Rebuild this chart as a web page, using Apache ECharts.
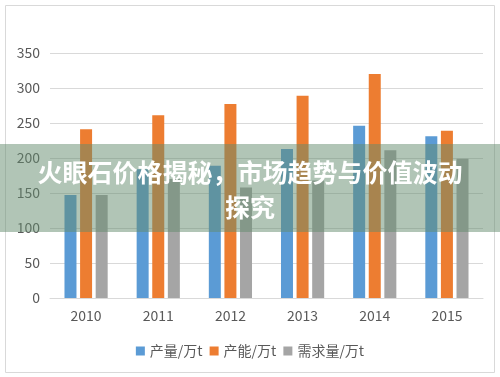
<!DOCTYPE html>
<html><head><meta charset="utf-8">
<script src="https://cdn.jsdelivr.net/npm/echarts@6/dist/echarts.min.js"></script>
<style>html,body{margin:0;padding:0;background:#fff}#c{width:500px;height:377px}</style>
</head><body><div id="c"></div>
<script>
const categories = ['2010','2011','2012','2013','2014','2015'];
const seriesNames = ['产量/万t','产能/万t','需求量/万t'];
const output = [147, 184, 189, 213, 246, 231];
const capacity = [241, 261, 277, 289, 320, 239];
const demand = [147, 170, 158, 168, 211, 199];
const yTicks = [0, 50, 100, 150, 200, 250, 300, 350];
const titleLines = ['火眼石价格揭秘，市场趋势与价值波动', '探究'];

const chart = echarts.init(document.getElementById('c'), null, {renderer: 'canvas'});
const font = '"Microsoft YaHei","Noto Sans CJK SC","Noto Sans",sans-serif';
const colors = ['#5B9BD5', '#ED7D31', '#A5A5A5'];
const data = [output, capacity, demand];
chart.setOption({
  animation: false,
  color: colors,
  grid: {left: 50, right: 17, top: 53, bottom: 79},
  legend: {
    data: seriesNames, bottom: 14, left: 'center', itemWidth: 9, itemHeight: 9, itemGap: 7,
    icon: 'rect', textStyle: {fontSize: 14, color: '#595959', fontFamily: font}
  },
  xAxis: {
    type: 'category', data: categories,
    axisLine: {lineStyle: {color: '#d9d9d9'}}, axisTick: {show: false},
    axisLabel: {fontSize: 14, color: '#595959', margin: 11, fontFamily: font}
  },
  yAxis: {
    type: 'value', min: yTicks[0], max: yTicks[yTicks.length - 1], interval: 50,
    axisLine: {show: false}, axisTick: {show: false},
    splitLine: {lineStyle: {color: '#d9d9d9'}},
    axisLabel: {fontSize: 14, color: '#595959', margin: 10, fontFamily: font}
  },
  series: seriesNames.map((n, i) => ({
    name: n, type: 'bar', data: data[i], barWidth: 12, barGap: '30%'
  })),
  graphic: [
    {type: 'rect', shape: {x: 5.5, y: 5.5, width: 489, height: 367},
     style: {fill: 'none', stroke: '#d9d9d9', lineWidth: 1}, z: 100},
    {type: 'rect', shape: {x: 0, y: 144, width: 500, height: 88},
     style: {fill: 'rgba(100,140,110,0.5)'}, z: 101},
    {type: 'text', x: 250, y: 172, z: 102,
     style: {text: titleLines[0], fill: '#fff', font: 'bold 25px ' + font,
             textAlign: 'center', textVerticalAlign: 'middle'}},
    {type: 'text', x: 250, y: 207, z: 102,
     style: {text: titleLines[1], fill: '#fff', font: 'bold 25px ' + font,
             textAlign: 'center', textVerticalAlign: 'middle'}}
  ]
});
</script></body></html>
